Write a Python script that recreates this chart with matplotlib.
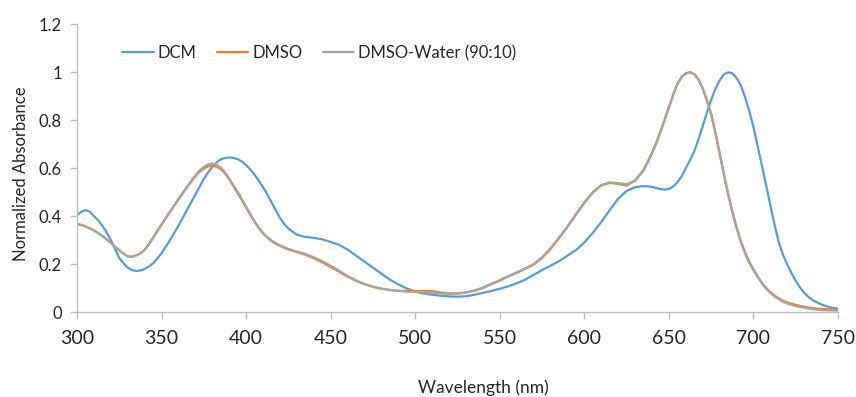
import numpy as np
import matplotlib
matplotlib.use("Agg")
import matplotlib.pyplot as plt

# Sampling grid (nm): finer steps around the sharper features of the spectra
wavelength = np.concatenate([
    np.arange(300, 345.1, 2.5),
    np.arange(350, 365.1, 5),
    np.arange(370, 425.1, 2.5),
    np.arange(430, 635.1, 5),
    np.arange(640, 735.1, 2.5),
    np.arange(740, 750.1, 5),
])

dcm = [
    # 300-345
    0.404, 0.418, 0.425, 0.418, 0.400, 0.382, 0.360, 0.332, 0.300, 0.262,
    0.225, 0.203, 0.185, 0.175, 0.171, 0.173, 0.180, 0.190, 0.203,
    # 350-365
    0.245, 0.300, 0.360, 0.425,
    # 370-425
    0.490, 0.523, 0.555, 0.582, 0.605, 0.624, 0.636, 0.642, 0.644, 0.642,
    0.637, 0.627, 0.612, 0.594, 0.572, 0.547, 0.520, 0.490, 0.457, 0.424,
    0.392, 0.367, 0.348,
    # 430-635
    0.322, 0.313, 0.309, 0.303, 0.292, 0.280, 0.260, 0.235, 0.210, 0.185,
    0.160, 0.135, 0.115, 0.098, 0.085, 0.077, 0.072, 0.068, 0.065, 0.064,
    0.066, 0.072, 0.080, 0.088, 0.097, 0.107, 0.120, 0.135, 0.155, 0.175,
    0.193, 0.212, 0.235, 0.258, 0.290, 0.330, 0.375, 0.425, 0.472, 0.505,
    0.520, 0.525,
    # 640-735
    0.522, 0.517, 0.512, 0.510, 0.513, 0.523, 0.540, 0.565, 0.600, 0.633,
    0.670, 0.720, 0.775, 0.832, 0.885, 0.930, 0.965, 0.990, 0.999, 0.995,
    0.975, 0.945, 0.895, 0.838, 0.770, 0.690, 0.610, 0.527, 0.445, 0.362,
    0.290, 0.238, 0.197, 0.162, 0.130, 0.103, 0.080, 0.063, 0.050,
    # 740-750
    0.032, 0.020, 0.014,
]

dmso = [
    0.367, 0.363, 0.357, 0.349, 0.340, 0.329, 0.317, 0.303, 0.288, 0.272,
    0.257, 0.243, 0.232, 0.230, 0.236, 0.244, 0.260, 0.283, 0.310,
    0.365, 0.418, 0.470, 0.520,
    0.566, 0.585, 0.598, 0.607, 0.610, 0.606, 0.596, 0.578, 0.553, 0.525,
    0.496, 0.466, 0.436, 0.405, 0.376, 0.350, 0.328, 0.310, 0.296, 0.285,
    0.276, 0.268, 0.260,
    0.250, 0.239, 0.224, 0.207, 0.188, 0.168, 0.147, 0.130, 0.116, 0.105,
    0.097, 0.092, 0.089, 0.087, 0.087, 0.088, 0.087, 0.082, 0.077, 0.077,
    0.081, 0.089, 0.100, 0.116, 0.131, 0.148, 0.164, 0.180, 0.198, 0.226,
    0.263, 0.308, 0.355, 0.407, 0.457, 0.499, 0.528, 0.538, 0.534, 0.527,
    0.548, 0.592,
    0.663, 0.706, 0.752, 0.802, 0.853, 0.906, 0.951, 0.979, 0.995, 0.999,
    0.991, 0.969, 0.932, 0.882, 0.824, 0.748, 0.662, 0.576, 0.494, 0.419,
    0.354, 0.296, 0.249, 0.209, 0.178, 0.148, 0.122, 0.100, 0.083, 0.068,
    0.057, 0.047, 0.040, 0.035, 0.030, 0.026, 0.022, 0.019, 0.016,
    0.013, 0.011, 0.010,
]

dmso_water = [
    0.367, 0.363, 0.357, 0.349, 0.340, 0.329, 0.317, 0.303, 0.288, 0.272,
    0.257, 0.243, 0.232, 0.230, 0.236, 0.244, 0.260, 0.283, 0.310,
    0.365, 0.418, 0.470, 0.522,
    0.570, 0.590, 0.605, 0.615, 0.619, 0.614, 0.602, 0.582, 0.556, 0.528,
    0.500, 0.469, 0.438, 0.407, 0.378, 0.352, 0.330, 0.312, 0.298, 0.287,
    0.278, 0.270, 0.263,
    0.252, 0.242, 0.228, 0.212, 0.193, 0.172, 0.150, 0.132, 0.117, 0.106,
    0.098, 0.092, 0.088, 0.085, 0.084, 0.083, 0.081, 0.078, 0.076, 0.077,
    0.082, 0.090, 0.102, 0.118, 0.133, 0.150, 0.165, 0.182, 0.200, 0.228,
    0.265, 0.310, 0.355, 0.405, 0.455, 0.497, 0.529, 0.540, 0.537, 0.532,
    0.548, 0.590,
    0.660, 0.703, 0.750, 0.800, 0.852, 0.905, 0.950, 0.978, 0.994, 0.999,
    0.990, 0.968, 0.930, 0.880, 0.822, 0.745, 0.658, 0.572, 0.490, 0.415,
    0.350, 0.292, 0.245, 0.205, 0.175, 0.145, 0.120, 0.097, 0.080, 0.064,
    0.053, 0.043, 0.035, 0.030, 0.025, 0.021, 0.018, 0.015, 0.012,
    0.008, 0.007, 0.006,
]

series_names = ["DCM", "DMSO", "DMSO-Water (90:10)"]
series_colors = ["#5B9BD5", "#ED7D31", "#A5A5A5"]

x_ticks = [300, 350, 400, 450, 500, 550, 600, 650, 700, 750]
y_ticks = [0, 0.2, 0.4, 0.6, 0.8, 1.0, 1.2]
y_tick_labels = ["0", "0.2", "0.4", "0.6", "0.8", "1", "1.2"]

plt.rcParams["font.family"] = ["Lato", "DejaVu Sans"]

fig = plt.figure(figsize=(8.56, 3.97), dpi=100)
ax = fig.add_axes([0.090, 0.214, 0.889, 0.7255])

for ys, name, col in zip([dcm, dmso, dmso_water], series_names, series_colors):
    ax.plot(wavelength, ys, color=col, lw=1.6, label=name,
            solid_joinstyle="round", solid_capstyle="round")

ax.set_xlim(300, 750)
ax.set_ylim(0, 1.2)
ax.set_xticks(x_ticks)
ax.set_xticklabels([str(t) for t in x_ticks], fontsize=14, color="#262626")
ax.set_yticks(y_ticks)
ax.set_yticklabels(y_tick_labels, fontsize=12, color="#262626")

for side in ["top", "right"]:
    ax.spines[side].set_visible(False)
for side in ["left", "bottom"]:
    ax.spines[side].set_color("#BFBFBF")
    ax.spines[side].set_linewidth(1.0)
ax.tick_params(axis="both", direction="out", length=5, width=1.0, color="#BFBFBF")
ax.tick_params(axis="x", pad=8)
ax.tick_params(axis="y", pad=6)

ax.set_xlabel("Wavelength (nm)", fontsize=12.5, color="#262626", va="center")
ax.xaxis.set_label_coords(0.5335, -0.262)
ax.set_ylabel("Normalized Absorbance", fontsize=12, color="#262626", va="center")
ax.yaxis.set_label_coords(-0.0735, 0.479)

fig.legend(loc="center", bbox_to_anchor=(0.373, 0.866), ncol=3, frameon=False,
           fontsize=12, handlelength=1.9, columnspacing=1.2, handletextpad=0.25,
           labelcolor="#262626")

fig.savefig("out.png", dpi=100)
